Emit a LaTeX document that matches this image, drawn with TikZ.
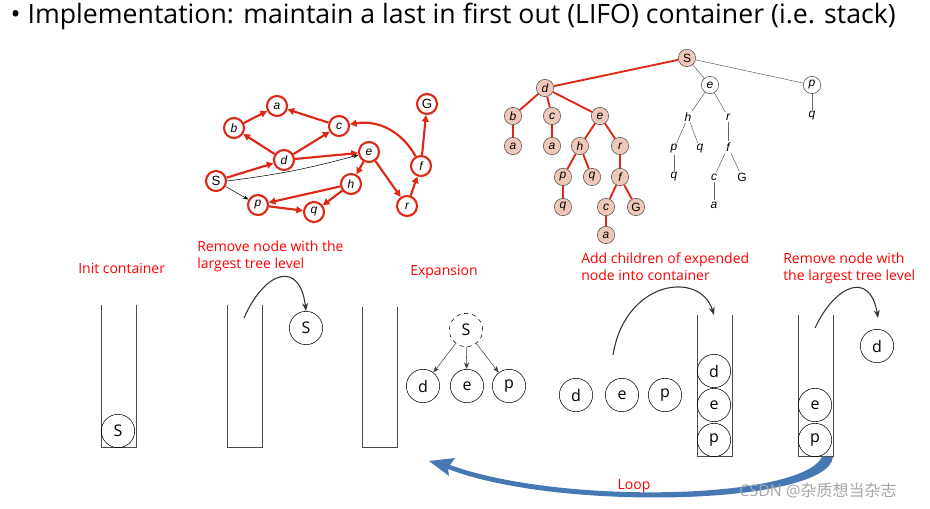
\documentclass[tikz,border=0pt]{standalone}
\usepackage{fontspec}
\setmainfont{Open Sans}
\newfontfamily\helv{Liberation Sans}
\newfontfamily\cjk{Noto Sans CJK SC}
\usetikzlibrary{positioning, arrows.meta}
\definecolor{graphred}{RGB}{220,40,20}
\definecolor{treefill}{RGB}{240,200,185}
\definecolor{loopblue}{RGB}{70,120,180}

\begin{document}
\begin{tikzpicture}[x=0.75pt, y=-0.75pt,
    % graph on the left
    gnode/.style={circle, draw=graphred, line width=1.6pt, fill=white, inner sep=0pt,
                  minimum size=15pt, font=\helv\itshape\small},
    garrow/.style={graphred, line width=1.6pt, -{Triangle[length=5pt,width=5pt]}},
    % search tree
    tnode/.style={circle, draw=black!70, fill=treefill, inner sep=0pt,
                  minimum size=13pt, font=\helv\itshape\small},
    wnode/.style={tnode, fill=white},
    pnode/.style={inner sep=1pt, font=\helv\itshape\small},
    tedge/.style={graphred, line width=1.4pt},
    wedge/.style={black!60, thin},
    % containers
    item/.style={circle, draw, thin, inner sep=0pt, minimum size=25pt, font=\large},
    steplabel/.style={red, font=\fontsize{10.5}{12.5}\selectfont, align=left,
                      anchor=north west, inner sep=0pt},
    move/.style={black!80, thick, -{Stealth[length=6pt]}}
]
\useasboundingbox (0,0) rectangle (930,509);

\node[anchor=west, font=\fontsize{20}{23}\selectfont] (title) at (6,17)
  {\textbullet\ Implementation: maintain a last in first out (LIFO) container (i.e. stack)};

% graph
\node[gnode] (a) at (277,106) {a};
\node[gnode] (b) at (234,128) {b};
\node[gnode] (c) at (339,126) {c};
\node[gnode] (d) at (284,160) {d};
\node[gnode] (e) at (369,152) {e};
\node[gnode, font=\helv\normalsize] (s) at (216,181) {S};
\node[gnode] (h) at (351,184) {h};
\node[gnode] (p) at (258,205) {p};
\node[gnode] (q) at (314,212) {q};
\node[gnode] (r) at (407,206) {r};
\node[gnode] (f) at (421,166) {f};
\node[gnode, font=\helv\normalsize] (g) at (427,104) {G};
\foreach \u/\v in {s/d, d/b, b/a, d/c, c/a, d/e, e/h, h/p, h/q, p/q, e/r, r/f, f/g}
  \draw[garrow] (\u) -- (\v);
\draw[garrow] (f) to[bend right=35] (c);
\draw[-{Stealth[length=4pt]}] (s.east) to[bend right=4] (e);
\draw[-{Stealth[length=4pt]}] (s) -- (p);

% search tree
\node[tnode, font=\helv\small] (t) at (687,58) {S};
\node[tnode] (td) at (545,88) {d};
\node[wnode] (te) at (710,85) {e};
\node[wnode] (tp) at (812,85) {p};
\node[tnode] (tb) at (513,116) {b};
\node[tnode] (tc) at (552,116) {c};
\node[tnode] (tde) at (600,116) {e};
\node[tnode] (tba) at (513,146) {a};
\node[tnode] (tca) at (552,146) {a};
\node[tnode] (th) at (580,146) {h};
\node[tnode] (tr) at (620,146) {r};
\node[tnode] (thp) at (563,177) {p};
\node[tnode] (thq) at (592,177) {q};
\node[tnode] (tf) at (620,177) {f};
\node[tnode] (tpq) at (563,207) {q};
\node[tnode] (tfc) at (606,207) {c};
\node[tnode, font=\helv\small] (tfg) at (636,207) {G};
\node[tnode] (tfa) at (606,235) {a};
\foreach \u/\v in {t/td, td/tb, td/tc, td/tde, tb/tba, tc/tca, tde/th, tde/tr,
                   th/thp, th/thq, tr/tf, thp/tpq, tf/tfc, tf/tfg, tfc/tfa}
  \draw[tedge] (\u) -- (\v);
\node[pnode] (uh) at (688,117) {h};
\node[pnode] (ur) at (728,117) {r};
\node[pnode] (uhp) at (674,149) {p};
\node[pnode] (uhq) at (700,149) {q};
\node[pnode] (uf) at (728,147) {f};
\node[pnode] (upq) at (674,177) {q};
\node[pnode] (ufc) at (714,177) {c};
\node[pnode, font=\helv\small] (ufg) at (742,177) {G};
\node[pnode] (ufa) at (714,205) {a};
\node[pnode] (uq) at (812,116) {q};
\foreach \u/\v in {t/te, t/tp, te/uh, te/ur, uh/uhp, uh/uhq, ur/uf,
                   uhp/upq, uf/ufc, uf/ufg, ufc/ufa, tp/uq}
  \draw[wedge] (\u) -- (\v);

% containers
\foreach \x/\yt/\yb in {101/305/447, 227/305/447, 362/307/447, 697/315/456, 798/315/456}
  \draw[black!70] (\x,\yt) -- (\x,\yb) -- (\x+35,\yb) -- (\x+35,\yt);

\node[steplabel] (l1) at (78,263) {Init container};
\node[item] (s1) at (118,431) {S};

\node[steplabel] (l2) at (197,241) {Remove node with the\\largest tree level};
\node[item] (s2) at (306,328) {S};
\coordinate (m2) at (244,318);
\draw[move] (m2) .. controls (265,270) and (300,260) .. (s2.north);

\node[steplabel] (l3) at (410,265) {Expansion};
\node[item, dashed] (s3) at (466,330) {S};
\node[item] (d3) at (423,386) {d};
\node[item] (e3) at (467,386) {e};
\node[item] (p3) at (509,386) {p};
\foreach \v in {d3, e3, p3}
  \draw[black!75, -{Stealth[length=5pt]}] (s3) -- (\v);

\node[steplabel] (l4) at (581,253) {Add children of expended\\node into container};
\node[item] (d4) at (576,395) {d};
\node[item] (e4) at (622,395) {e};
\node[item] (p4) at (665,395) {p};
\node[item] (cd) at (714,371) {d};
\node[item] (ce) at (714,405) {e};
\node[item] (cp) at (714,440) {p};
\coordinate (m4) at (613,355);
\draw[move] (m4) .. controls (625,280) and (700,270) .. (714,315);

\node[steplabel] (l5) at (783,253) {Remove node with\\the largest tree level};
\node[item] (ee) at (815,405) {e};
\node[item] (ep) at (815,440) {p};
\node[item] (dd) at (877,346) {d};
\coordinate (m5) at (815,328);
\draw[move] (m5) .. controls (835,285) and (870,270) .. (878,318);

% loop
\fill[loopblue] (833,457) .. controls (828,505) and (560,512) .. (448,469)
  -- (449,476) -- (429,461) -- (455,458) -- (450,465)
  .. controls (560,505) and (800,500) .. (822,457) -- cycle;
\node[red, font=\fontsize{10.5}{12.5}\selectfont] (loop) at (634,486) {Loop};
\node[black!35, font=\fontsize{12}{14}\selectfont] (mark) at (818,491) {CSDN @\cjk 杂质想当杂志};
\end{tikzpicture}
\end{document}
